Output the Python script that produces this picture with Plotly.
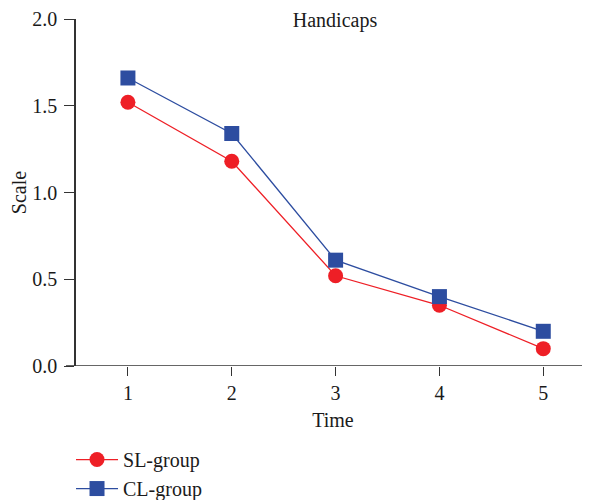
import plotly.graph_objects as go

time = [1, 2, 3, 4, 5]
sl_group = [1.52, 1.18, 0.52, 0.35, 0.10]
cl_group = [1.66, 1.34, 0.61, 0.40, 0.20]
y_ticks = [0.0, 0.5, 1.0, 1.5, 2.0]
y_ticklabels = ["0.0", "0.5", "1.0", "1.5", "2.0"]

FONT = "Liberation Serif"
FS = 20
RED = "#EE1F26"
BLUE = "#2D4DA0"
INK = "#1a1a1a"

fig = go.Figure()
fig.add_trace(go.Scatter(
    x=time, y=sl_group, name="SL-group", mode="lines+markers",
    line=dict(color=RED, width=1.3),
    marker=dict(symbol="circle", size=15, color=RED),
))
fig.add_trace(go.Scatter(
    x=time, y=cl_group, name="CL-group", mode="lines+markers",
    line=dict(color=BLUE, width=1.3),
    marker=dict(symbol="square", size=15, color=BLUE),
))

# x-axis baseline extending left beyond the y-axis (as in the reference)
fig.add_shape(type="line", xref="paper", yref="y", x0=-10/514, x1=1, y0=0, y1=0,
              line=dict(color="#333333", width=1.5))

fig.update_layout(
    width=590, height=500,
    margin=dict(l=68, r=8, t=11, b=142, autoexpand=False),
    paper_bgcolor="white", plot_bgcolor="white",
    font=dict(family=FONT, size=FS, color=INK),
    title=dict(text="Handicaps", x=327/590, xanchor="center", y=1-5/500, yanchor="top",
               font=dict(family=FONT, size=FS, color=INK)),
    showlegend=True,
    legend=dict(orientation="v", x=-0.0097, xanchor="left", y=-0.2134, yanchor="top",
                itemwidth=42,
                font=dict(family=FONT, size=FS, color=INK),
                bgcolor="rgba(0,0,0,0)", tracegroupgap=0),
    xaxis=dict(range=[0.5, 5.45], tickvals=time, ticktext=[str(t) for t in time],
               automargin=False,
               showline=False, showgrid=False, zeroline=False,
               ticks="outside", ticklen=9, tickwidth=1.3, tickcolor="#333333",
               ticklabelstandoff=0,
               title=dict(text="Time", standoff=9, font=dict(family=FONT, size=FS)),
               tickfont=dict(family=FONT, size=FS)),
    yaxis=dict(range=[0, 2.0], tickvals=y_ticks, ticktext=y_ticklabels,
               automargin=False,
               showline=True, linecolor="#333333", linewidth=1.5,
               showgrid=False, zeroline=False,
               ticks="outside", ticklen=10, tickwidth=1.3, tickcolor="#333333",
               ticklabelstandoff=3,
               title=dict(text="Scale", standoff=6, font=dict(family=FONT, size=FS)),
               tickfont=dict(family=FONT, size=FS)),
)

fig.write_html("out.html")
